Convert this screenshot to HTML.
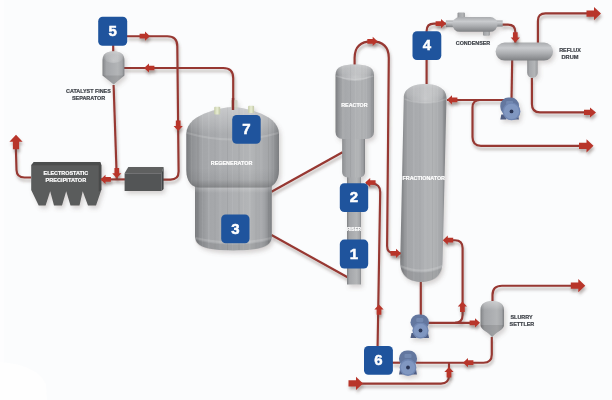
<!DOCTYPE html><html><head><meta charset="utf-8"><style>html,body{margin:0;padding:0;background:#fbfcfd;overflow:hidden}svg{display:block}</style></head><body><svg width="612" height="400" viewBox="0 0 612 400"><defs>
<filter id="psh" x="0" y="0" width="612" height="400" filterUnits="userSpaceOnUse">
  <feGaussianBlur in="SourceAlpha" stdDeviation="1.5"/>
  <feOffset dx="1.2" dy="2.8" result="o"/>
  <feFlood flood-color="#5e4a44" flood-opacity="0.42"/>
  <feComposite in2="o" operator="in"/>
  <feMerge><feMergeNode/><feMergeNode in="SourceGraphic"/></feMerge>
</filter>
<filter id="vsh" x="0" y="0" width="612" height="400" filterUnits="userSpaceOnUse">
  <feGaussianBlur in="SourceAlpha" stdDeviation="2"/>
  <feOffset dx="1.5" dy="2.5" result="o"/>
  <feFlood flood-color="#6a5a55" flood-opacity="0.25"/>
  <feComposite in2="o" operator="in"/>
  <feMerge><feMergeNode/><feMergeNode in="SourceGraphic"/></feMerge>
</filter>
<linearGradient id="metal" x1="0" x2="1" y1="0" y2="0">
  <stop offset="0" stop-color="#797b7e"/><stop offset="0.06" stop-color="#8f9194"/><stop offset="0.18" stop-color="#a4a6a9"/><stop offset="0.42" stop-color="#abadb0"/><stop offset="0.7" stop-color="#b3b5b7"/><stop offset="0.9" stop-color="#a3a5a8"/><stop offset="1" stop-color="#7c7e81"/>
</linearGradient>
<pattern id="streak" x="0" y="0" width="41" height="400" patternUnits="userSpaceOnUse">
  <rect x="3" y="0" width="1.5" height="400" fill="#fff" opacity="0.07"/>
  <rect x="9.5" y="0" width="0.8" height="400" fill="#000" opacity="0.04"/>
  <rect x="14" y="0" width="2.5" height="400" fill="#fff" opacity="0.05"/>
  <rect x="22" y="0" width="1" height="400" fill="#000" opacity="0.05"/>
  <rect x="27" y="0" width="0.8" height="400" fill="#fff" opacity="0.07"/>
  <rect x="33" y="0" width="2" height="400" fill="#000" opacity="0.035"/>
  <rect x="38" y="0" width="1" height="400" fill="#fff" opacity="0.06"/>
</pattern>
<linearGradient id="botsh" x1="0" x2="0" y1="0" y2="1">
  <stop offset="0" stop-color="#000" stop-opacity="0"/><stop offset="0.6" stop-color="#000" stop-opacity="0.05"/><stop offset="1" stop-color="#000" stop-opacity="0.22"/>
</linearGradient>

<linearGradient id="rim" x1="0" x2="0" y1="0" y2="1">
  <stop offset="0" stop-color="#000" stop-opacity="0.18"/><stop offset="0.45" stop-color="#fff" stop-opacity="0.18"/><stop offset="1" stop-color="#fff" stop-opacity="0"/>
</linearGradient>
<linearGradient id="hmetal" x1="0" x2="0" y1="0" y2="1">
  <stop offset="0" stop-color="#a9abae"/><stop offset="0.3" stop-color="#c9cbce"/><stop offset="0.6" stop-color="#acaeb1"/><stop offset="1" stop-color="#7e8083"/>
</linearGradient>
<linearGradient id="dome" x1="0" x2="0" y1="0" y2="1">
  <stop offset="0" stop-color="#fff" stop-opacity="0.35"/><stop offset="0.7" stop-color="#fff" stop-opacity="0.12"/><stop offset="1" stop-color="#fff" stop-opacity="0"/>
</linearGradient>
<radialGradient id="dhl" cx="0.5" cy="0.75" r="0.6">
  <stop offset="0" stop-color="#fff" stop-opacity="0.3"/><stop offset="1" stop-color="#fff" stop-opacity="0"/>
</radialGradient>
<linearGradient id="nozz" x1="0" x2="1" y1="0" y2="0">
  <stop offset="0" stop-color="#c4cba8"/><stop offset="0.5" stop-color="#e8edd2"/><stop offset="1" stop-color="#c0c6a6"/>
</linearGradient>
</defs><rect width="612" height="400" fill="#fbfcfd"/><rect x="0" y="0" width="4" height="400" fill="#fdfdfe"/><path d="M0,362 C25,364 42,372 46,385 L47,400 H0 Z" fill="#fefefe"/><g filter="url(#psh)" fill="none" stroke="#973731" stroke-width="2.15"><path d="M127,36.2 H167.3 Q177.3,36.2 177.3,46.2 L178.6,171.5 Q178.6,179.6 170.5,179.6 H163"/><path d="M113.2,45 V52"/><path d="M233.2,101 V78 Q233.2,68 223.2,68 H124"/><path d="M113.6,85 L116.8,179"/><path d="M125,179.4 H100"/><path d="M31,177.5 H24.5 Q16.8,177.5 16.5,170 L15.8,146"/><path d="M271.5,191.8 L342.5,152.2"/><path d="M271.5,235 L348,277.5"/><path d="M354.6,66 V58 Q354.6,41.4 371.7,41.4 Q388.8,41.4 388.8,58 L387.1,246 Q387.1,253.3 394.5,253.3 H401"/><path d="M426.6,84 V31 Q426.6,23.6 434,23.6 H446"/><path d="M502,24.6 H508 Q515.3,24.6 515.3,32 V43"/><path d="M537.9,43 V21 Q537.9,13.4 545.5,13.4 H590"/><path d="M512.2,60 L511.5,100"/><path d="M508,100 H447"/><path d="M480,100 Q472.5,100 472.5,107.5 V137 Q472.5,145.8 481,145.8 H580"/><path d="M531.9,78 V104 Q531.9,112.4 540,112.4 H588"/><path d="M377.6,346 L380.2,192 Q380.2,184 372,183.5 H366"/><path d="M420.8,281 V315"/><path d="M428,322.8 H476"/><path d="M455,322.8 Q462.6,322.8 462.6,315 V248 Q462.6,240.2 455,240.2 H444"/><path d="M492.5,301 V295 Q492.5,285.7 502,285.7 H575"/><path d="M491.8,337 V354.5 Q491.8,362.7 483.5,362.7 H416"/><path d="M360,383.6 H441 Q449,383.6 449,375.6 V363"/><path d="M392,362.7 H400"/></g><g filter="url(#vsh)"><path d="M102.5,60 C102.5,53 108,51.2 113.5,51.2 C119,51.2 124.4,53 124.4,60 V75.6 L113.7,84.4 L102.5,75.6 Z" fill="url(#metal)"/><path d="M102.5,60 C102.5,53 108,51.2 113.5,51.2 C119,51.2 124.4,53 124.4,60 Z" fill="url(#dome)"/><ellipse cx="113.5" cy="58" rx="9" ry="5" fill="url(#dhl)"/><path d="M102.5,75.6 L113.7,84.4 L124.4,75.6 Z" fill="#000" opacity="0.1"/><path d="M31.2,165.3 L33.9,162 H100.2 L101.3,165 V190 L96,205.5 H88 L82.7,191.3 L79.5,205.5 H70.5 L66.2,191.3 L62,205.5 H54 L50.2,191.3 L45.6,205.5 H38.7 L31.2,190 Z" fill="#5a5b5b"/><path d="M31.2,165.3 L33.9,162 H100.2 L98.8,165.3 Z" fill="#4c4d4d"/><path d="M98.8,165.3 L100.2,162 L101.3,165 V190 L98.8,191.5 Z" fill="#4a4b4b"/><path d="M124.6,173.3 L128.3,167 H163.6 L161.6,173.3 Z" fill="#5e6061"/><path d="M161.6,173.3 L163.6,167 V189 L161.6,191 Z" fill="#434546"/><rect x="124.6" y="173.3" width="37" height="17.7" fill="#535556"/><path d="M195,184 H271.8 V236 C271.8,246 262,250.4 233.4,250.4 C205,250.4 195,246 195,236 Z" fill="url(#metal)"/><path d="M195,184 H271.8 V236 C271.8,246 262,250.4 233.4,250.4 C205,250.4 195,246 195,236 Z" fill="url(#streak)"/><rect x="195" y="184" width="76.8" height="9" fill="url(#rim)"/><path d="M195.5,238 Q233.4,247 271.3,238" fill="none" stroke="#fff" stroke-opacity="0.14" stroke-width="2"/><path d="M195,240 C196,247 206,250.4 233.4,250.4 C261,250.4 271,247 271.8,240 Q233.4,249 195,240 Z" fill="#000" opacity="0.08"/><path d="M186.3,134 C186.3,111.7 229.2,107 232.7,107 C236.2,107 279,111.7 279,134 V170 C279,182 273,187.5 265,187.5 H200 C192,187.5 186.3,182 186.3,170 Z" fill="url(#metal)"/><path d="M186.3,134 C186.3,111.7 229.2,107 232.7,107 C236.2,107 279,111.7 279,134 V170 C279,182 273,187.5 265,187.5 H200 C192,187.5 186.3,182 186.3,170 Z" fill="url(#streak)"/><path d="M186.3,134 C186.3,111.7 229.2,107 232.7,107 C236.2,107 279,111.7 279,134 Z" fill="url(#dome)"/><path d="M186.3,168 V170 C186.3,182 192,187.5 200,187.5 H265 C273,187.5 279,182 279,170 V168 Z" fill="url(#botsh)"/><path d="M187,133 Q232.7,146 278.3,133" fill="none" stroke="#fff" stroke-opacity="0.15" stroke-width="2"/><rect x="214.2" y="106.7" width="6" height="7.8" rx="1" fill="url(#nozz)"/><rect x="248.1" y="105.7" width="6" height="7.3" rx="1" fill="url(#nozz)"/><rect x="231" y="100" width="6.5" height="9" rx="1" fill="#c9cdbd" opacity="0.75"/><path d="M233,98 V110" stroke="#8e322d" stroke-width="2.4"/><rect x="347" y="172" width="13.9" height="112.5" fill="url(#metal)"/><path d="M342.2,136 H365 V172 Q365,177 359,177.5 H348 Q342.2,177 342.2,172 Z" fill="url(#metal)"/><path d="M342.2,136 H365 V172 Q365,177 359,177.5 H348 Q342.2,177 342.2,172 Z" fill="url(#streak)"/><path d="M335.5,75 C335.5,66 344,64.5 354.7,64.5 C365.4,64.5 373.9,66 373.9,75 V132 Q373.9,138.5 366,139 H343 Q335.5,138.5 335.5,132 Z" fill="url(#metal)"/><path d="M335.5,75 C335.5,66 344,64.5 354.7,64.5 C365.4,64.5 373.9,66 373.9,75 V132 Q373.9,138.5 366,139 H343 Q335.5,138.5 335.5,132 Z" fill="url(#streak)"/><path d="M335.5,75 C335.5,66 344,64.5 354.7,64.5 C365.4,64.5 373.9,66 373.9,75 Z" fill="url(#dome)"/><ellipse cx="354.7" cy="73" rx="17" ry="8" fill="url(#dhl)"/><path d="M336,76 Q354.7,83 373.4,76" fill="none" stroke="#fff" stroke-opacity="0.18" stroke-width="1.5"/><path d="M403.8,98 C403.8,88 414,84 425.15,84 C436.3,84 446.5,88 446.5,98 L442.5,262 C442.5,276 433,282 421.4,282 C409.8,282 400.2,276 400.2,262 Z" fill="url(#metal)"/><path d="M403.8,98 C403.8,88 414,84 425.15,84 C436.3,84 446.5,88 446.5,98 L442.5,262 C442.5,276 433,282 421.4,282 C409.8,282 400.2,276 400.2,262 Z" fill="url(#streak)"/><path d="M403.8,98 C403.8,88 414,84 425.15,84 C436.3,84 446.5,88 446.5,98 Z" fill="url(#dome)"/><ellipse cx="425" cy="94" rx="19" ry="9" fill="url(#dhl)"/><path d="M400.6,266 Q421.4,275 442.2,266" fill="none" stroke="#fff" stroke-opacity="0.16" stroke-width="2"/><path d="M400.4,268 C401,277 410,282 421.4,282 C433,282 442,277 442.3,268 Q421.4,277 400.4,268 Z" fill="#000" opacity="0.08"/><path d="M404.5,99 Q425,107 446,99" fill="none" stroke="#fff" stroke-opacity="0.15" stroke-width="1.5"/><rect x="457.6" y="12.6" width="7.2" height="7" rx="1" fill="url(#metal)"/><rect x="483.1" y="29" width="6.6" height="6.7" rx="1" fill="url(#metal)"/><rect x="445.9" y="20.4" width="8" height="6.8" fill="url(#hmetal)"/><rect x="495" y="20.4" width="7.7" height="6.2" fill="url(#hmetal)"/><rect x="452.4" y="17" width="45.1" height="14.8" rx="7.4" fill="url(#hmetal)"/><rect x="527.3" y="55" width="10.2" height="23.1" rx="5.1" fill="url(#metal)"/><rect x="495.6" y="42.5" width="57.5" height="18.1" rx="9" fill="url(#hmetal)"/><path d="M480.5,310 C480.5,303 486,301 492.2,301 C498.4,301 504,303 504,310 V325 C504,330 496,332 492.2,337.2 C488.5,332 480.5,330 480.5,325 Z" fill="url(#metal)"/><path d="M480.5,310 C480.5,303 486,301 492.2,301 C498.4,301 504,303 504,310 Z" fill="url(#dome)"/><path d="M480.5,325 C480.5,330 488.5,332 492.2,337.2 C496,332 504,330 504,325 Z" fill="#000" opacity="0.1"/></g><g filter="url(#psh)" fill="#b8352b"><polygon points="150.00,36.20 145.00,31.60 145.00,33.85 139.60,33.85 139.60,38.55 145.00,38.55 145.00,40.80"/><polygon points="178.20,131.00 182.80,126.00 180.55,126.00 180.55,120.60 175.85,120.60 175.85,126.00 173.60,126.00"/><polygon points="144.00,68.00 149.00,72.60 149.00,70.35 154.40,70.35 154.40,65.65 149.00,65.65 149.00,63.40"/><polygon points="116.80,178.30 121.40,173.30 119.15,173.30 119.15,167.90 114.45,167.90 114.45,173.30 112.20,173.30"/><polygon points="100.50,179.40 105.50,184.00 105.50,181.75 110.90,181.75 110.90,177.05 105.50,177.05 105.50,174.80"/><polygon points="16.00,134.80 9.40,141.80 12.90,141.80 12.90,149.30 19.10,149.30 19.10,141.80 22.60,141.80"/><polygon points="377.70,41.40 372.70,36.80 372.70,39.05 367.30,39.05 367.30,43.75 372.70,43.75 372.70,46.00"/><polygon points="401.00,253.30 396.00,248.70 396.00,250.95 390.60,250.95 390.60,255.65 396.00,255.65 396.00,257.90"/><polygon points="446.00,23.60 441.00,19.00 441.00,21.25 435.60,21.25 435.60,25.95 441.00,25.95 441.00,28.20"/><polygon points="515.30,42.60 519.90,37.60 517.65,37.60 517.65,32.20 512.95,32.20 512.95,37.60 510.70,37.60"/><polygon points="601.00,13.60 594.00,7.00 594.00,10.50 586.50,10.50 586.50,16.70 594.00,16.70 594.00,20.20"/><polygon points="447.00,99.80 452.00,104.40 452.00,102.15 457.40,102.15 457.40,97.45 452.00,97.45 452.00,95.20"/><polygon points="593.50,145.80 586.50,139.20 586.50,142.70 579.00,142.70 579.00,148.90 586.50,148.90 586.50,152.40"/><polygon points="596.00,112.40 590.00,107.40 590.00,109.80 584.00,109.80 584.00,115.00 590.00,115.00 590.00,117.40"/><polygon points="365.20,182.50 370.20,187.10 370.20,184.85 375.60,184.85 375.60,180.15 370.20,180.15 370.20,177.90"/><polygon points="379.00,304.40 374.40,309.40 376.65,309.40 376.65,314.80 381.35,314.80 381.35,309.40 383.60,309.40"/><polygon points="480.00,322.80 475.00,318.20 475.00,320.45 469.60,320.45 469.60,325.15 475.00,325.15 475.00,327.40"/><polygon points="442.80,240.20 447.80,244.80 447.80,242.55 453.20,242.55 453.20,237.85 447.80,237.85 447.80,235.60"/><polygon points="462.40,301.50 457.80,306.50 460.05,306.50 460.05,311.90 464.75,311.90 464.75,306.50 467.00,306.50"/><polygon points="585.30,285.70 578.30,279.10 578.30,282.60 570.80,282.60 570.80,288.80 578.30,288.80 578.30,292.30"/><polygon points="463.00,362.70 468.00,367.30 468.00,365.05 473.40,365.05 473.40,360.35 468.00,360.35 468.00,358.10"/><polygon points="449.00,367.00 444.40,372.00 446.65,372.00 446.65,377.40 451.35,377.40 451.35,372.00 453.60,372.00"/><polygon points="363.00,383.40 356.00,376.80 356.00,380.30 348.50,380.30 348.50,386.50 356.00,386.50 356.00,390.00"/></g><g filter="url(#vsh)"><path d="M500.3,119.5 L501.3,114.5 H506.3 V119.5 Z" fill="#4f5d82"/><path d="M519,119.5 L518,114.5 H513 V119.5 Z" fill="#4f5d82"/><rect x="500.3" y="97.6" width="18.69999999999999" height="17.400000000000006" rx="8" fill="#63779f"/><rect x="506.15" y="101.1" width="7" height="4" rx="1" fill="#7389b1"/><circle cx="511.5" cy="111.4" r="8.9" fill="#6f86b2"/><circle cx="511.5" cy="111.4" r="7.6000000000000005" fill="#8097c1"/><circle cx="511.5" cy="111.4" r="1.9" fill="#2b3655"/></g><g filter="url(#vsh)"><path d="M410.5,338 L411.5,333 H416.5 V338 Z" fill="#4f5d82"/><path d="M429,338 L428,333 H423 V338 Z" fill="#4f5d82"/><rect x="410.5" y="314.5" width="18.5" height="15.5" rx="8" fill="#63779f"/><rect x="416.25" y="318.0" width="7" height="4" rx="1" fill="#7389b1"/><circle cx="420.5" cy="330.5" r="8.1" fill="#6f86b2"/><circle cx="420.5" cy="330.5" r="6.8" fill="#8097c1"/><circle cx="420.5" cy="330.5" r="1.9" fill="#2b3655"/></g><g filter="url(#vsh)"><path d="M399,374.5 L400,369.5 H405 V374.5 Z" fill="#4f5d82"/><path d="M417,374.5 L416,369.5 H411 V374.5 Z" fill="#4f5d82"/><rect x="399" y="350.5" width="18" height="16.5" rx="8" fill="#63779f"/><rect x="404.5" y="354.0" width="7" height="4" rx="1" fill="#7389b1"/><circle cx="408" cy="367.5" r="8.4" fill="#6f86b2"/><circle cx="408" cy="367.5" r="7.1000000000000005" fill="#8097c1"/><circle cx="408" cy="367.5" r="1.9" fill="#2b3655"/></g><g><rect x="98.2" y="16.8" width="29" height="29" rx="4.5" fill="#1f549d"/><text x="112.7" y="36.0" text-anchor="middle" font-family="Liberation Sans" font-weight="bold" font-size="15" fill="#fff" stroke="#fff" stroke-width="0.5">5</text><rect x="232.2" y="115" width="28.5" height="28.8" rx="4.5" fill="#1f549d"/><text x="246.45" y="134.1" text-anchor="middle" font-family="Liberation Sans" font-weight="bold" font-size="15" fill="#fff" stroke="#fff" stroke-width="0.5">7</text><rect x="221.2" y="214.5" width="28.3" height="28.8" rx="4.5" fill="#1f549d"/><text x="235.35" y="233.6" text-anchor="middle" font-family="Liberation Sans" font-weight="bold" font-size="15" fill="#fff" stroke="#fff" stroke-width="0.5">3</text><rect x="339.8" y="183.3" width="28.4" height="28.7" rx="4.5" fill="#1f549d"/><text x="354.0" y="202.35" text-anchor="middle" font-family="Liberation Sans" font-weight="bold" font-size="15" fill="#fff" stroke="#fff" stroke-width="0.5">2</text><rect x="339.8" y="239.6" width="28.4" height="28.9" rx="4.5" fill="#1f549d"/><text x="354.0" y="258.75" text-anchor="middle" font-family="Liberation Sans" font-weight="bold" font-size="15" fill="#fff" stroke="#fff" stroke-width="0.5">1</text><rect x="412.5" y="31.2" width="28.8" height="28.8" rx="4.5" fill="#1f549d"/><text x="426.9" y="50.300000000000004" text-anchor="middle" font-family="Liberation Sans" font-weight="bold" font-size="15" fill="#fff" stroke="#fff" stroke-width="0.5">4</text><rect x="364" y="346" width="28.9" height="28.7" rx="4.5" fill="#1f549d"/><text x="378.45" y="365.05" text-anchor="middle" font-family="Liberation Sans" font-weight="bold" font-size="15" fill="#fff" stroke="#fff" stroke-width="0.5">6</text></g><g><text x="66.1" y="92.9" textLength="44.7" lengthAdjust="spacingAndGlyphs" font-family="Liberation Sans" font-weight="bold" font-size="6.2" fill="#3e4249" stroke="#3e4249" stroke-width="0.22">CATALYST FINES</text><text x="71.9" y="99.5" textLength="33.3" lengthAdjust="spacingAndGlyphs" font-family="Liberation Sans" font-weight="bold" font-size="6.2" fill="#3e4249" stroke="#3e4249" stroke-width="0.22">SEPARATOR</text><text x="43.60000000000001" y="175.4" textLength="44.6" lengthAdjust="spacingAndGlyphs" font-family="Liberation Sans" font-weight="bold" font-size="6.2" fill="#fff" stroke="#fff" stroke-width="0.22">ELECTROSTATIC</text><text x="45.60000000000001" y="182.4" textLength="40.6" lengthAdjust="spacingAndGlyphs" font-family="Liberation Sans" font-weight="bold" font-size="6.2" fill="#fff" stroke="#fff" stroke-width="0.22">PRECIPITATOR</text><text x="210.75" y="165.2" textLength="41.7" lengthAdjust="spacingAndGlyphs" font-family="Liberation Sans" font-weight="bold" font-size="6.2" fill="#fff" stroke="#fff" stroke-width="0.22">REGENERATOR</text><text x="341.25" y="106.7" textLength="26.3" lengthAdjust="spacingAndGlyphs" font-family="Liberation Sans" font-weight="bold" font-size="6.2" fill="#fff" stroke="#fff" stroke-width="0.22">REACTOR</text><text x="347.0" y="230.5" textLength="14" lengthAdjust="spacingAndGlyphs" font-family="Liberation Sans" font-weight="bold" font-size="4.8" fill="#fff" stroke="#fff" stroke-width="0.22">RISER</text><text x="402.5" y="179.7" textLength="42.5" lengthAdjust="spacingAndGlyphs" font-family="Liberation Sans" font-weight="bold" font-size="6.2" fill="#fff" stroke="#fff" stroke-width="0.22">FRACTIONATOR</text><text x="455.75" y="45.2" textLength="34.5" lengthAdjust="spacingAndGlyphs" font-family="Liberation Sans" font-weight="bold" font-size="6.2" fill="#3e4249" stroke="#3e4249" stroke-width="0.22">CONDENSER</text><text x="559.15" y="52.2" textLength="21.7" lengthAdjust="spacingAndGlyphs" font-family="Liberation Sans" font-weight="bold" font-size="6.2" fill="#3e4249" stroke="#3e4249" stroke-width="0.22">REFLUX</text><text x="561.5" y="59.2" textLength="17" lengthAdjust="spacingAndGlyphs" font-family="Liberation Sans" font-weight="bold" font-size="6.2" fill="#3e4249" stroke="#3e4249" stroke-width="0.22">DRUM</text><text x="510.5" y="319.2" textLength="22" lengthAdjust="spacingAndGlyphs" font-family="Liberation Sans" font-weight="bold" font-size="6.2" fill="#3e4249" stroke="#3e4249" stroke-width="0.22">SLURRY</text><text x="509.54999999999995" y="326" textLength="24.7" lengthAdjust="spacingAndGlyphs" font-family="Liberation Sans" font-weight="bold" font-size="6.2" fill="#3e4249" stroke="#3e4249" stroke-width="0.22">SETTLER</text></g></svg></body></html>
